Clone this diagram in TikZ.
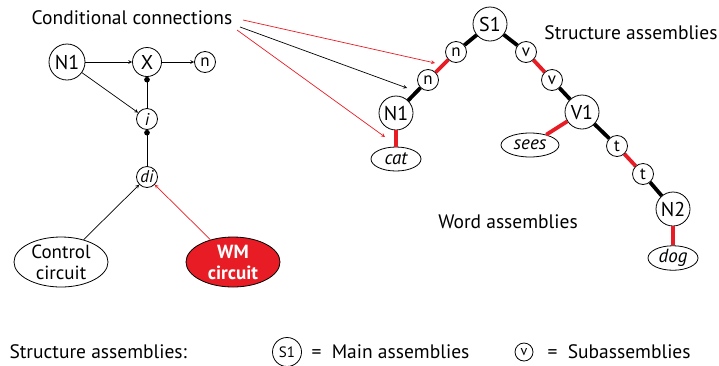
\documentclass[tikz,border=0pt]{standalone}
\usepackage{fontspec}
\setmainfont{PT Sans}
\usepackage{tikz}
\usetikzlibrary{shapes.geometric, arrows, positioning}
\definecolor{wmred}{RGB}{232,28,36}
\tikzstyle{arrow} = [line width=0.7pt,->,>=stealth]
\tikzstyle{redarrow} = [line width=0.7pt,->,>=stealth, draw=wmred]
\tikzstyle{dotline} = [line width=0.7pt,-*]
\tikzstyle{assembly} = [circle, draw, line width=0.8pt, inner sep=0pt, minimum size=34pt, fill=white, font=\fontsize{20}{22}\selectfont]
\tikzstyle{sub} = [circle, draw, line width=0.8pt, inner sep=0pt, minimum size=21pt, fill=white, font=\fontsize{17}{19}\selectfont]
\tikzstyle{word} = [ellipse, draw, line width=0.8pt, inner sep=0pt, minimum width=50pt, minimum height=24pt, font=\fontsize{19}{21}\selectfont\itshape]
\tikzstyle{circuit} = [ellipse, draw, line width=0.8pt, minimum width=94pt, minimum height=50pt, inner sep=0pt, align=center, font=\fontsize{19}{21}\selectfont]
\tikzstyle{textlabel} = [font=\fontsize{19.5}{22}\selectfont]
\tikzstyle{blackbond} = [line width=3.8pt]
\tikzstyle{redbond} = [line width=3.8pt, draw=wmred]

\begin{document}
\begin{tikzpicture}[x=1pt, y=-1pt, node distance=28pt]
\useasboundingbox (0,0) rectangle (719,365);
% left: control of conditional connection
\node (n1a) [assembly, minimum size=36pt] at (67,62) {N1};
\node (x) [assembly, minimum size=29pt, right of=n1a, xshift=52pt] {X};
\node (nout) [sub, right of=x, xshift=30pt] {n};
\node (i) [sub, below of=x, yshift=-29pt] {\itshape i};
\node (di) [sub, below of=i, yshift=-30pt] {\itshape di};
\node (control) [circuit, below of=di, xshift=-86pt, yshift=-57pt] {Control\\circuit};
\node (wm) [circuit, fill=wmred, text=white, font=\fontsize{19}{21}\selectfont\bfseries, right of=control, xshift=144pt] {WM\\circuit};

\draw [arrow] (n1a) -- (x);
\draw [arrow] (x) -- (nout);
\draw [arrow] (n1a) -- (i);
\draw [dotline] (i) -- (x);
\draw [dotline] (di) -- (i);
\draw [arrow] (control) -- (di);
\draw [redarrow] (wm) -- (di);

% right: structure assemblies
\node (s1) [assembly] at (490,24) {S1};
\node (nu) [sub, below of=s1, xshift=-34pt] {n};
\node (nl) [sub, below of=nu, xshift=-28pt] {n};
\node (n1b) [assembly, below of=nl, xshift=-32pt, yshift=-5pt] {N1};
\node (cat) [word, below of=n1b, yshift=-18pt] {cat};
\node (vu) [sub, below of=s1, xshift=36pt] {v};
\node (vl) [sub, below of=vu, xshift=26pt] {v};
\node (v1) [assembly, below of=vl, xshift=30pt, yshift=-4pt] {V1};
\node (sees) [word, minimum width=58pt, below of=v1, xshift=-52pt, yshift=-5pt] {sees};
\node (tu) [sub, below of=v1, xshift=35pt, yshift=-6pt] {t};
\node (tl) [sub, below of=tu, xshift=26pt] {t};
\node (n2) [assembly, below of=tl, xshift=30pt, yshift=-7pt] {N2};
\node (dog) [word, below of=n2, yshift=-21pt] {dog};

\draw [blackbond] (s1) -- (nu);
\draw [redbond] (nu) -- (nl);
\draw [blackbond] (nl) -- (n1b);
\draw [redbond] (n1b) -- (cat);
\draw [blackbond] (s1) -- (vu);
\draw [redbond] (vu) -- (vl);
\draw [blackbond] (vl) -- (v1);
\draw [redbond] (v1) -- (sees);
\draw [blackbond] (v1) -- (tu);
\draw [redbond] (tu) -- (tl);
\draw [blackbond] (tl) -- (n2);
\draw [redbond] (n2) -- (dog);

% labels
\node (cond) [textlabel] at (132,18) {Conditional connections};
\node (struct) [textlabel] at (631,33) {Structure assemblies};
\node (words) [textlabel] at (508,222) {Word assemblies};

\coordinate (fromA) at (243,20);
\coordinate (fromB) at (240,27);
\coordinate (fromC) at (237,30);
\coordinate (toA) at (435,63);
\coordinate (toB) at (407,88);
\coordinate (toC) at (385,137);
\draw [redarrow] (fromA) -- (toA);
\draw [arrow] (fromB) -- (toB);
\draw [redarrow] (fromC) -- (toC);

% legend
\node (legend) [textlabel, anchor=west] at (6,352) {Structure assemblies:};
\node (legmain) [assembly, minimum size=29pt, font=\fontsize{15}{17}\selectfont] at (287,352) {S1};
\node (legmaintext) [textlabel, right of=legmain, xshift=-7pt, anchor=west] {=~ Main assemblies};
\node (legsub) [sub, minimum size=18pt, font=\fontsize{14}{16}\selectfont] at (524,352) {v};
\node (legsubtext) [textlabel, right of=legsub, xshift=-8pt, anchor=west] {=~ Subassemblies};
\end{tikzpicture}
\end{document}
